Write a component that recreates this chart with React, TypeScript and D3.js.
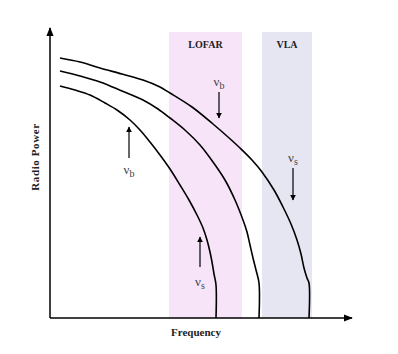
import React, { useRef, useEffect } from 'react';
import * as d3 from 'd3';

// spectra: [frequency, power] in arbitrary units (x 0..300, y 0..290)
const spectrumHigh: [number, number][] = [
  [10, 260], [30, 256], [50, 250], [72, 244], [93, 238], [110, 231], [120, 225], [142, 211],
  [163, 194], [178, 181], [190, 170], [202, 158], [212, 146], [224, 128], [233, 111],
  [241, 94], [247, 78], [251, 64], [254, 50], [257, 40], [259, 35], [259, 0],
];
const spectrumMid: [number, number][] = [
  [10, 247], [30, 242], [50, 236], [72, 227], [93, 218], [108, 209], [120, 200], [136, 187],
  [150, 173], [163, 156], [175, 138], [185, 118], [193, 98], [197, 86], [200, 73],
  [203, 60], [206, 48], [209, 35], [209, 0],
];
const spectrumLow: [number, number][] = [
  [10, 232], [25, 228], [40, 223], [55, 215], [67, 208], [80, 198], [90, 188], [100, 176],
  [110, 163], [120, 149], [130, 133], [139, 118], [147, 103], [153, 90], [157, 78],
  [160, 66], [162, 56], [164, 44], [166, 33], [166, 0],
];
const curves = [spectrumHigh, spectrumMid, spectrumLow];

const bands = [
  { name: 'LOFAR', from: 119, to: 192, color: '#f8e4f8' },
  { name: 'VLA', from: 212, to: 262, color: '#e6e6f3' },
];

// arrow annotations: subscript, x, arrow start/end power, label power
const markers = [
  { sub: 'b', x: 79, y0: 160, y1: 191, label: 144 },
  { sub: 'b', x: 169, y0: 226, y1: 200, label: 232 },
  { sub: 's', x: 243, y0: 150, y1: 118, label: 156 },
  { sub: 's', x: 150, y0: 51, y1: 81, label: 32 },
];

const App = () => {
  const svgRef = useRef<SVGSVGElement>(null);

  useEffect(() => {
    const width = 398;
    const height = 354;
    const svg = d3.select(svgRef.current)
      .attr('width', width)
      .attr('height', height);
    svg.selectAll('*').remove();

    const x = d3.scaleLinear().domain([0, 300]).range([50, 350]);
    const y = d3.scaleLinear().domain([0, 290]).range([318, 28]);

    const defs = svg.append('defs');
    defs.append('marker')
      .attr('id', 'head')
      .attr('viewBox', '0 0 10 10')
      .attr('refX', 9)
      .attr('refY', 5)
      .attr('markerWidth', 6)
      .attr('markerHeight', 6)
      .attr('markerUnits', 'userSpaceOnUse')
      .attr('orient', 'auto')
      .append('path')
      .attr('d', 'M0,0L10,5L0,10Z')
      .attr('fill', '#000');
    defs.append('marker')
      .attr('id', 'axhead')
      .attr('viewBox', '0 0 10 10')
      .attr('refX', 9)
      .attr('refY', 5)
      .attr('markerWidth', 9)
      .attr('markerHeight', 9)
      .attr('markerUnits', 'userSpaceOnUse')
      .attr('orient', 'auto')
      .append('path')
      .attr('d', 'M0,1L10,5L0,9Z')
      .attr('fill', '#000');

    // observing bands
    bands.forEach(b => {
      svg.append('rect')
        .attr('x', x(b.from))
        .attr('y', y(286))
        .attr('width', x(b.to) - x(b.from))
        .attr('height', y(0) - y(286))
        .attr('fill', b.color);
      svg.append('text')
        .attr('x', (x(b.from) + x(b.to)) / 2)
        .attr('y', y(270))
        .attr('text-anchor', 'middle')
        .attr('font-family', 'Liberation Serif, serif')
        .attr('font-weight', 'bold')
        .attr('font-size', 10)
        .attr('fill', '#222')
        .text(b.name);
    });

    // axes
    svg.append('line')
      .attr('x1', x(0)).attr('y1', y(0))
      .attr('x2', x(0)).attr('y2', y(290))
      .attr('stroke', '#000').attr('stroke-width', 1.5)
      .attr('marker-end', 'url(#axhead)');
    svg.append('line')
      .attr('x1', x(0)).attr('y1', y(0))
      .attr('x2', x(302)).attr('y2', y(0))
      .attr('stroke', '#000').attr('stroke-width', 1.5)
      .attr('marker-end', 'url(#axhead)');

    const line = d3.line<[number, number]>()
      .x(d => x(d[0]))
      .y(d => y(d[1]))
      .curve(d3.curveCatmullRom.alpha(0.5));

    curves.forEach(c => {
      svg.append('path')
        .datum(c)
        .attr('fill', 'none')
        .attr('stroke', '#000')
        .attr('stroke-width', 1.6)
        .attr('d', line);
    });

    // break frequency markers
    markers.forEach(m => {
      svg.append('line')
        .attr('x1', x(m.x)).attr('y1', y(m.y0))
        .attr('x2', x(m.x)).attr('y2', y(m.y1))
        .attr('stroke', '#000').attr('stroke-width', 1.2)
        .attr('marker-end', 'url(#head)');
      const t = svg.append('text')
        .attr('x', x(m.x))
        .attr('y', y(m.label))
        .attr('text-anchor', 'middle')
        .attr('font-family', 'Liberation Serif, serif')
        .attr('font-size', 13)
        .attr('fill', '#444');
      t.append('tspan').text('ν');
      t.append('tspan')
        .attr('dy', 3)
        .attr('font-size', 10)
        .text(m.sub);
    });

    // axis titles
    svg.append('text')
      .attr('x', 196)
      .attr('y', 336)
      .attr('text-anchor', 'middle')
      .attr('font-family', 'Liberation Serif, serif')
      .attr('font-weight', 'bold')
      .attr('font-size', 11)
      .attr('fill', '#222')
      .text('Frequency');
    svg.append('text')
      .attr('transform', 'translate(39,157) rotate(-90)')
      .attr('text-anchor', 'middle')
      .attr('font-family', 'Liberation Serif, serif')
      .attr('font-weight', 'bold')
      .attr('font-size', 11)
      .attr('letter-spacing', 0.6)
      .attr('fill', '#222')
      .text('Radio Power');
  }, []);

  return (
    <div style={{ position: 'absolute', left: 0, top: 0 }}>
      <svg ref={svgRef}></svg>
    </div>
  );
};

export default App;
